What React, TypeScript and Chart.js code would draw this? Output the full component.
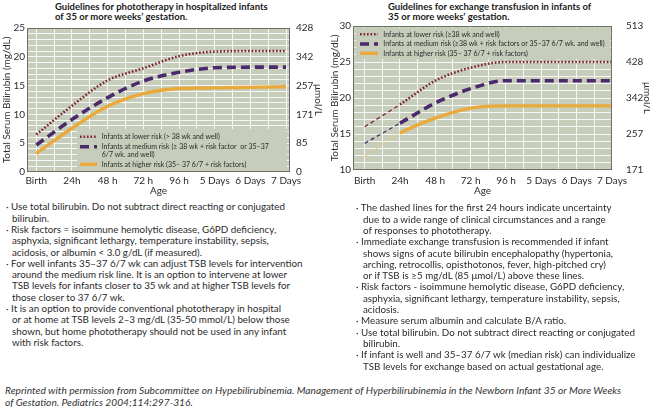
import React, { useEffect, useRef } from 'react';
import { Chart, registerables } from 'chart.js';

Chart.register(...registerables);

// ---------- data ----------
const ageLabels = ['Birth', '24h', '48 h', '72 h', '96 h', '5 Days', '6 Days', '7 Days'];
const ageDays = [0, 1, 2, 3, 4, 5, 6, 7];

// Phototherapy (mg/dL)
const photoLower = [6.5, 11.5, 15.9, 18.0, 20.1, 20.9, 21.0, 21.0];
const photoMedium = [4.7, 9.1, 12.9, 15.8, 17.3, 18.1, 18.2, 18.2];
const photoHigher = [3.2, 7.6, 11.4, 13.6, 14.5, 14.6, 14.7, 14.8];

// Exchange transfusion (mg/dL)
const exLower = [16.0, 19.1, 22.4, 24.2, 25.0, 25.0, 25.0, 25.0];
const exMedium = [13.7, 16.5, 19.3, 21.3, 22.4, 22.4, 22.4, 22.4];
const exHigher = [11.9, 15.1, 17.2, 18.6, 18.9, 18.9, 18.9, 18.9];

const photoMgTicks = [0, 5, 10, 15, 20, 25];
const photoUmolTicks = ['0', '85', '171', '257', '342', '428'];
const exMgTicks = [10, 15, 20, 25, 30];
const exUmolTicks = ['171', '257', '342', '428', '513'];

const photoLegendLabels = [
  ['Infants at lower risk (> 38 wk and well)'],
  ['Infants at medium risk (\u2265 38 wk + risk factor  or 35\u201337', '6/7 wk. and well)'],
  ['Infants at higher risk (35\u2013 37 6/7 + risk factors)'],
];
const exLegendLabels = [
  ['Infants at lower risk (\u226538 wk and well)'],
  ['Infants at medium risk (\u226538 wk + risk factors or 35\u201337 6/7 wk. and well)'],
  ['Infants at higher risk (35\u2013 37 6/7 + risk factors)'],
];

const leftNotes = [
  ['Use total bilirubin. Do not subtract direct reacting or conjugated', 'bilirubin.'],
  ['Risk factors = isoimmune hemolytic disease, G6PD deficiency,', 'asphyxia, significant lethargy, temperature instability, sepsis,', 'acidosis, or albumin < 3.0 g/dL (if measured).'],
  ['For well infants 35\u201337 6/7 wk can adjust TSB levels for intervention', 'around the medium risk line. It is an option to intervene at lower', 'TSB levels for infants closer to 35 wk and at higher TSB levels for', 'those closer to 37 6/7 wk.'],
  ['It is an option to provide conventional phototherapy in hospital', 'or at home at TSB levels 2\u20133 mg/dL (35-50 mmol/L) below those', 'shown, but home phototherapy should not be used in any infant', 'with risk factors.'],
];
const rightNotes = [
  ['The dashed lines for the first 24 hours indicate uncertainty', 'due to a wide range of clinical circumstances and a range', 'of responses to phototherapy.'],
  ['Immediate exchange transfusion is recommended if infant', 'shows signs of acute bilirubin encephalopathy (hypertonia,', 'arching, retrocollis, opisthotonos, fever, high-pitched cry)', 'or if TSB is \u22655 mg/dL (85 \u03bcmol/L)  above these lines.'],
  ['Risk factors - isoimmune hemolytic disease, G6PD deficiency,', 'asphyxia, significant lethargy, temperature instability, sepsis,', 'acidosis.'],
  ['Measure serum albumin and calculate B/A ratio.'],
  ['Use total bilirubin. Do not subtract direct reacting or conjugated', 'bilirubin.'],
  ['If infant is well and 35\u201337 6/7 wk (median risk) can individualize', 'TSB levels for exchange based on actual gestational age.'],
];
const footerLines = [
  'Reprinted with permission from Subcommittee on Hypebilirubinemia. Management of Hyperbilirubinemia in the Newborn Infant 35 or More Weeks',
  'of Gestation. Pediatrics 2004;114:297-316.',
];

// ---------- styles ----------
const BG = '#c6cebb';
const GRID = 'rgba(255,255,255,0.85)';
const BORDER = '#6e706a';
const MAROON = '#7e2233';
const PURPLE = '#4a2a6c';
const ORANGE = '#e9a93c';
const ORANGE_LIGHT = '#f0c878';
const TEXT = '#2b2b2b';
const FONT = 'Lato';

const lineStyles = [
  { color: MAROON, width: 2.6, dash: [1.6, 1.9] },
  { color: PURPLE, width: 3.6, dash: [9, 5] },
  { color: ORANGE, width: 3.4, dash: [] as number[] },
];
const firstDayColors = [MAROON, PURPLE, ORANGE_LIGHT];

const plotPlugin = {
  id: 'plotDecor',
  beforeDraw(chart: any) {
    const { ctx, chartArea: a } = chart;
    ctx.save();
    ctx.fillStyle = BG;
    ctx.fillRect(a.left, a.top, a.right - a.left, a.bottom - a.top);
    ctx.restore();
  },
  afterDraw(chart: any) {
    const { ctx, chartArea: a } = chart;
    const o = chart.options.plugins.insideLegend;
    ctx.save();
    if (o) {
      ctx.fillStyle = BG;
      ctx.fillRect(a.left + o.box[0], a.top + o.box[1], o.box[2], o.box[3]);
      ctx.font = `${o.fontSize}px ${FONT}`;
      ctx.textBaseline = 'middle';
      ctx.textAlign = 'left';
      o.labels.forEach((lines: string[], i: number) => {
        const y = a.top + o.ys[i];
        const st = lineStyles[i];
        ctx.strokeStyle = st.color;
        ctx.lineWidth = st.width;
        ctx.setLineDash(st.dash);
        ctx.beginPath();
        ctx.moveTo(a.left + o.sx[0], y);
        ctx.lineTo(a.left + o.sx[1], y);
        ctx.stroke();
        ctx.setLineDash([]);
        ctx.fillStyle = TEXT;
        lines.forEach((t, k) => ctx.fillText(t, a.left + o.tx, y + k * o.lineGap));
      });
    }
    ctx.strokeStyle = BORDER;
    ctx.lineWidth = 1;
    ctx.strokeRect(a.left + 0.5, a.top + 0.5, a.right - a.left - 1, a.bottom - a.top - 1);
    ctx.restore();
  },
};

function makeConfig(p: any) {
  const sets = [p.lower, p.medium, p.higher].map((vals: number[], i: number) => {
    const st = lineStyles[i];
    const ds: any = {
      label: p.legend[i].join(' '),
      data: ageDays.map((d, k) => ({ x: d, y: vals[k] })),
      borderColor: st.color,
      borderWidth: st.width,
      borderDash: st.dash,
      borderCapStyle: 'butt',
      pointRadius: 0,
      fill: false,
      cubicInterpolationMode: 'monotone',
    };
    if (p.dashedFirstDay) {
      ds.segment = {
        borderDash: (c: any) => (c.p0DataIndex === 0 ? [4, 3] : st.dash),
        borderWidth: (c: any) => (c.p0DataIndex === 0 ? 1.3 : st.width),
        borderColor: (c: any) => (c.p0DataIndex === 0 ? firstDayColors[i] : st.color),
      };
    }
    return ds;
  });
  const tickFont = { family: FONT, size: 10 };
  return {
    type: 'line',
    data: { datasets: sets },
    plugins: [plotPlugin],
    options: {
      animation: false,
      responsive: false,
      devicePixelRatio: 1,
      layout: { padding: { top: p.top, left: 0, right: 0, bottom: 0 } },
      plugins: {
        legend: { display: false },
        tooltip: { enabled: false },
        insideLegend: p.legendOpts,
      },
      scales: {
        x: {
          type: 'linear',
          min: p.xMin,
          max: p.xMax,
          afterBuildTicks: (s: any) => {
            const t = [];
            for (let v = 0; v <= 7; v += 0.5) t.push({ value: v });
            s.ticks = t;
          },
          afterFit: (s: any) => { s.height = p.xH; },
          grid: { color: GRID, lineWidth: 1, drawTicks: false },
          border: { display: false },
          ticks: {
            autoSkip: false, maxRotation: 0, padding: p.xPad, color: TEXT, font: tickFont,
            callback: (v: number) => (Number.isInteger(v) ? ageLabels[v] : ''),
          },
          title: { display: true, text: 'Age', color: TEXT, font: tickFont, padding: { top: 0, bottom: 1 } },
        },
        y: {
          type: 'linear',
          position: 'left',
          min: p.mgTicks[0],
          max: p.mgTicks[p.mgTicks.length - 1],
          afterBuildTicks: (s: any) => {
            const t = [];
            for (let v = s.min; v <= s.max; v += 1) t.push({ value: v });
            s.ticks = t;
          },
          afterFit: (s: any) => { s.width = p.yW; },
          grid: { color: GRID, lineWidth: 1, drawTicks: false },
          border: { display: false },
          ticks: {
            autoSkip: false, padding: 2, color: TEXT, font: tickFont,
            callback: (v: number) => (p.mgTicks.includes(v) ? String(v) : ''),
          },
          title: { display: true, text: 'Total Serum Bilirubin (mg/dL)', color: TEXT, font: tickFont, padding: { top: p.yTitlePad, bottom: 0 } },
        },
        y2: {
          type: 'linear',
          position: 'right',
          min: p.mgTicks[0],
          max: p.mgTicks[p.mgTicks.length - 1],
          afterBuildTicks: (s: any) => { s.ticks = p.mgTicks.map((v: number) => ({ value: v })); },
          afterFit: (s: any) => { s.width = p.y2W; },
          grid: { display: false, drawTicks: false },
          border: { display: false },
          ticks: {
            autoSkip: false, padding: p.y2Pad, color: TEXT, font: tickFont,
            callback: (v: number) => p.umolTicks[p.mgTicks.indexOf(v)] ?? '',
          },
          title: {
            display: true, text: '\u03bcmol/L', color: TEXT,
            font: { family: FONT, size: 10, lineHeight: 1 },
            padding: { top: p.y2TitlePad, bottom: 0 },
          },
        },
      },
    },
  };
}

function ChartCanvas({ cfg, left, width, height }: any) {
  const ref = useRef<HTMLCanvasElement>(null);
  useEffect(() => {
    const chart = new Chart(ref.current as HTMLCanvasElement, makeConfig(cfg) as any);
    return () => chart.destroy();
  }, []);
  return (
    <canvas
      ref={ref}
      width={width}
      height={height}
      style={{ position: 'absolute', left, top: 0, width, height }}
    />
  );
}

const photoCfg = {
  lower: photoLower, medium: photoMedium, higher: photoHigher,
  legend: photoLegendLabels, mgTicks: photoMgTicks, umolTicks: photoUmolTicks,
  xMin: -0.26, xMax: 7.11, top: 28, xH: 26, yW: 27, y2W: 36, xPad: 3,
  yTitlePad: 1, y2Pad: 6, y2TitlePad: 3, dashedFirstDay: false,
  legendOpts: {
    box: [50, 101, 210, 42], ys: [108.7, 118.7, 136.3], sx: [53, 70], tx: 74.7,
    lineGap: 8.3, fontSize: 7, labels: photoLegendLabels,
  },
};

const exCfg = {
  lower: exLower, medium: exMedium, higher: exHigher,
  legend: exLegendLabels, mgTicks: exMgTicks, umolTicks: exUmolTicks,
  xMin: -0.33, xMax: 7.0, top: 26, xH: 28, yW: 28, y2W: 38, xPad: 5,
  yTitlePad: 4, y2Pad: 14, y2TitlePad: -2, dashedFirstDay: true,
  legendOpts: {
    box: [3, 2, 254, 31], ys: [8.3, 18, 27.3], sx: [7, 25], tx: 30.3,
    lineGap: 8.3, fontSize: 7, labels: exLegendLabels,
  },
};

function Notes({ items, left, indent, top }: any) {
  const rows: any[] = [];
  items.forEach((lines: string[], i: number) => {
    lines.forEach((t, k) => {
      rows.push(
        <div key={`${i}-${k}`} style={{ paddingLeft: k === 0 ? 0 : indent, whiteSpace: 'nowrap' }}>
          {k === 0 ? '\u00b7 ' + t : t}
        </div>
      );
    });
  });
  return (
    <div style={{ position: 'absolute', left, top, font: `9.8px ${FONT}`, lineHeight: '11.3px', color: TEXT }}>
      {rows}
    </div>
  );
}

export default function App() {
  return (
    <div style={{ position: 'absolute', left: 0, top: 0, width: 650, height: 408, background: '#fff', overflow: 'hidden', fontFamily: FONT }}>
      <div style={{ position: 'absolute', left: 55, top: 1.5, font: `bold 9.5px ${FONT}`, lineHeight: '10.5px', color: '#1a1a1a', whiteSpace: 'nowrap' }}>
        Guidelines for phototherapy in hospitalized infants<br />of 35 or more weeks{'\u2019'} gestation.
      </div>
      <div style={{ position: 'absolute', left: 388, top: 1.5, font: `bold 9.5px ${FONT}`, lineHeight: '10.5px', color: '#1a1a1a', whiteSpace: 'nowrap' }}>
        Guidelines for exchange transfusion in infants of<br />35 or more weeks{'\u2019'} gestation.
      </div>
      <ChartCanvas cfg={photoCfg} left={0} width={326} height={198} />
      <ChartCanvas cfg={exCfg} left={325} width={325} height={198} />
      <Notes items={leftNotes} left={6} indent={6} top={201.4} />
      <Notes items={rightNotes} left={356} indent={7} top={202.4} />
      <div style={{ position: 'absolute', left: 5, top: 384, font: `italic 10.2px ${FONT}`, lineHeight: '12px', color: '#333', whiteSpace: 'nowrap' }}>
        {footerLines.map((t, i) => <div key={i}>{t}</div>)}
      </div>
    </div>
  );
}
